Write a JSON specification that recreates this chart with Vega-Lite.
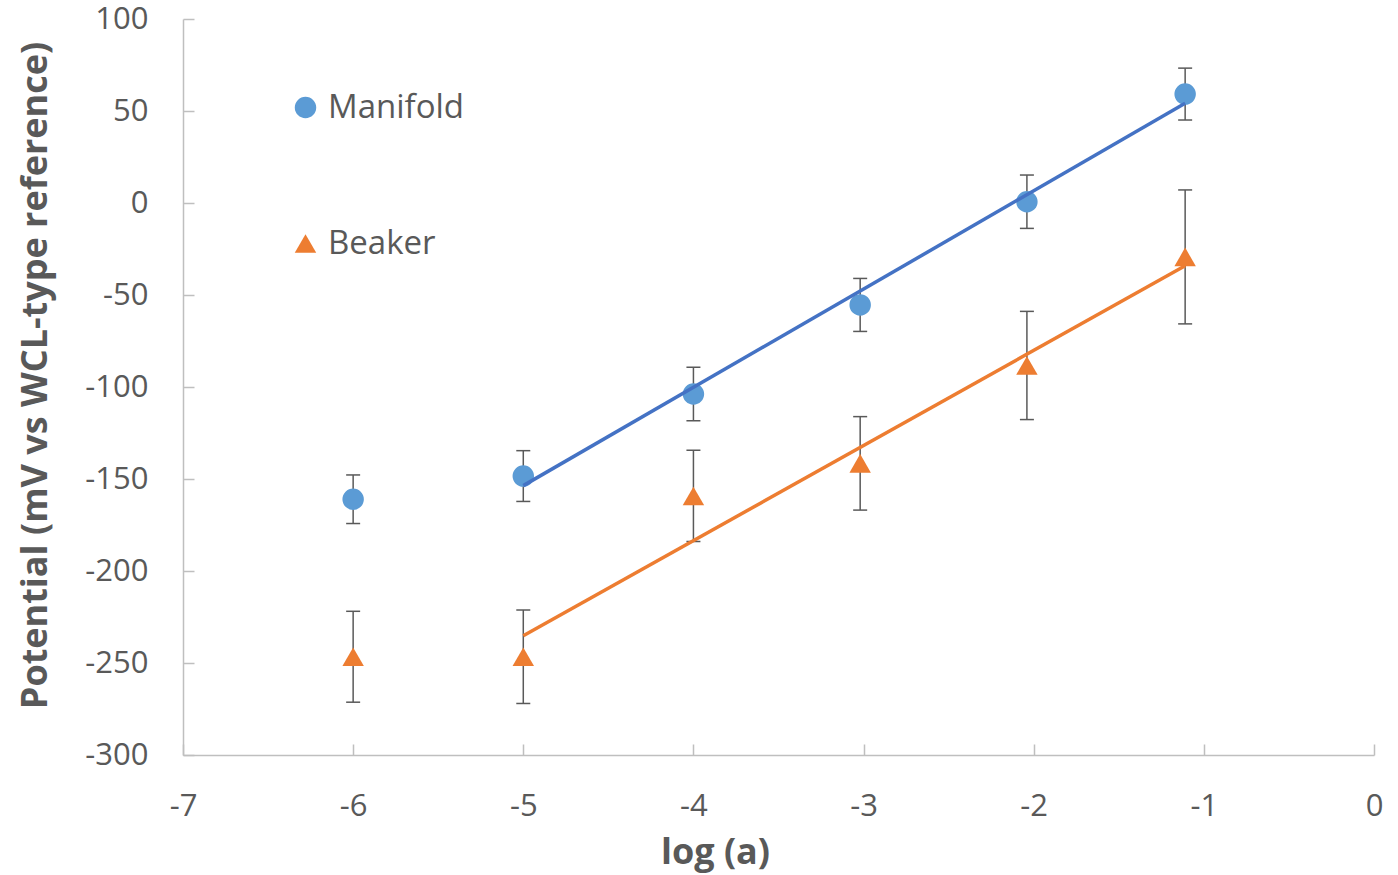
{
  "$schema": "https://vega.github.io/schema/vega-lite/v6.json",
  "width": 1191,
  "height": 736,
  "autosize": {"type": "none"},
  "padding": {"left": 183, "top": 19, "right": 24, "bottom": 120},
  "background": "#ffffff",
  "config": {
    "view": {"stroke": null},
    "font": "Open Sans",
    "axis": {
      "grid": false,
      "domainColor": "#BFBFBF",
      "domainWidth": 1.5,
      "tickColor": "#BFBFBF",
      "tickWidth": 1.5,
      "tickSize": -11,
      "labelFlush": false,
      "labelOverlap": false,
      "labelFont": "Open Sans",
      "labelFontSize": 31,
      "labelColor": "#595959",
      "labelExpr": "datum.value < 0 ? '-' + abs(datum.value) : '' + datum.value",
      "titleFont": "Open Sans",
      "titleFontSize": 36,
      "titleFontWeight": "bold",
      "titleColor": "#595959"
    }
  },
  "datasets": {
    "pts": [
      {"series": "Manifold", "logA": -6, "potential": -161.0, "lo": -174.2, "hi": -147.8},
      {"series": "Manifold", "logA": -5, "potential": -148.4, "lo": -162.2, "hi": -134.6},
      {"series": "Manifold", "logA": -4, "potential": -103.8, "lo": -118.3, "hi": -89.3},
      {"series": "Manifold", "logA": -3.02, "potential": -55.4, "lo": -69.8, "hi": -41.0},
      {"series": "Manifold", "logA": -2.04, "potential": 0.7, "lo": -13.8, "hi": 15.2},
      {"series": "Manifold", "logA": -1.11, "potential": 59.2, "lo": 45.1, "hi": 73.3},
      {"series": "Beaker", "logA": -6, "potential": -246.6, "lo": -271.3, "hi": -221.9},
      {"series": "Beaker", "logA": -5, "potential": -246.6, "lo": -272.0, "hi": -221.2},
      {"series": "Beaker", "logA": -4, "potential": -159.2, "lo": -184.0, "hi": -134.4},
      {"series": "Beaker", "logA": -3.02, "potential": -141.5, "lo": -166.9, "hi": -116.1},
      {"series": "Beaker", "logA": -2.04, "potential": -88.3, "lo": -117.7, "hi": -58.9},
      {"series": "Beaker", "logA": -1.11, "potential": -29.3, "lo": -65.7, "hi": 7.1}
    ],
    "trend": [
      {"series": "Manifold", "logA": -5, "potential": -153.6},
      {"series": "Manifold", "logA": -1.11, "potential": 54.2},
      {"series": "Beaker", "logA": -5, "potential": -235.2},
      {"series": "Beaker", "logA": -1.11, "potential": -34.1}
    ]
  },
  "encoding": {
    "x": {
      "field": "logA", "type": "quantitative",
      "scale": {"domain": [-7, 0], "nice": false, "zero": false},
      "axis": {
        "values": [-7, -6, -5, -4, -3, -2, -1, 0],
        "labelPadding": 47,
        "title": "log (a)",
        "titleX": 532,
        "titleY": 108,
        "titleAnchor": null,
        "titleAlign": "center",
        "titleBaseline": "alphabetic"
      }
    },
    "y": {
      "field": "potential", "type": "quantitative",
      "scale": {"domain": [-300, 100], "nice": false, "zero": false},
      "axis": {
        "values": [-300, -250, -200, -150, -100, -50, 0, 50, 100],
        "labelPadding": 46,
        "title": "Potential (mV vs WCL-type reference)",
        "titleX": -148,
        "titleY": 356,
        "titleAngle": 270,
        "titleAlign": "center",
        "titleBaseline": "middle"
      }
    }
  },
  "layer": [
    {
      "data": {"name": "pts"},
      "mark": {"type": "rule", "color": "#595959", "strokeWidth": 1.5},
      "encoding": {"y": {"field": "lo", "type": "quantitative"}, "y2": {"field": "hi"}}
    },
    {
      "data": {"name": "pts"},
      "mark": {"type": "tick", "orient": "horizontal", "color": "#595959", "size": 14, "thickness": 1.5, "opacity": 1},
      "encoding": {"y": {"field": "lo", "type": "quantitative"}}
    },
    {
      "data": {"name": "pts"},
      "mark": {"type": "tick", "orient": "horizontal", "color": "#595959", "size": 14, "thickness": 1.5, "opacity": 1},
      "encoding": {"y": {"field": "hi", "type": "quantitative"}}
    },
    {
      "data": {"name": "pts"},
      "mark": {"type": "point", "filled": true, "opacity": 1, "size": 460},
      "encoding": {
        "color": {
          "field": "series", "type": "nominal",
          "scale": {"domain": ["Manifold", "Beaker"], "range": ["#5B9BD5", "#ED7D31"]},
          "legend": {
            "title": null,
            "orient": "none",
            "legendX": 106,
            "legendY": 72,
            "symbolSize": 460,
            "labelFont": "Open Sans",
            "labelFontSize": 33,
            "labelColor": "#595959",
            "labelOffset": 6,
            "rowPadding": 102,
            "symbolStrokeWidth": 0
          }
        },
        "shape": {
          "field": "series", "type": "nominal",
          "scale": {"domain": ["Manifold", "Beaker"], "range": ["circle", "triangle-up"]}
        }
      }
    },
    {
      "data": {"name": "trend"},
      "mark": {"type": "line", "strokeWidth": 3.5},
      "encoding": {
        "stroke": {
          "field": "series", "type": "nominal",
          "scale": {"domain": ["Manifold", "Beaker"], "range": ["#4472C4", "#ED7D31"]},
          "legend": null
        }
      }
    }
  ]
}
